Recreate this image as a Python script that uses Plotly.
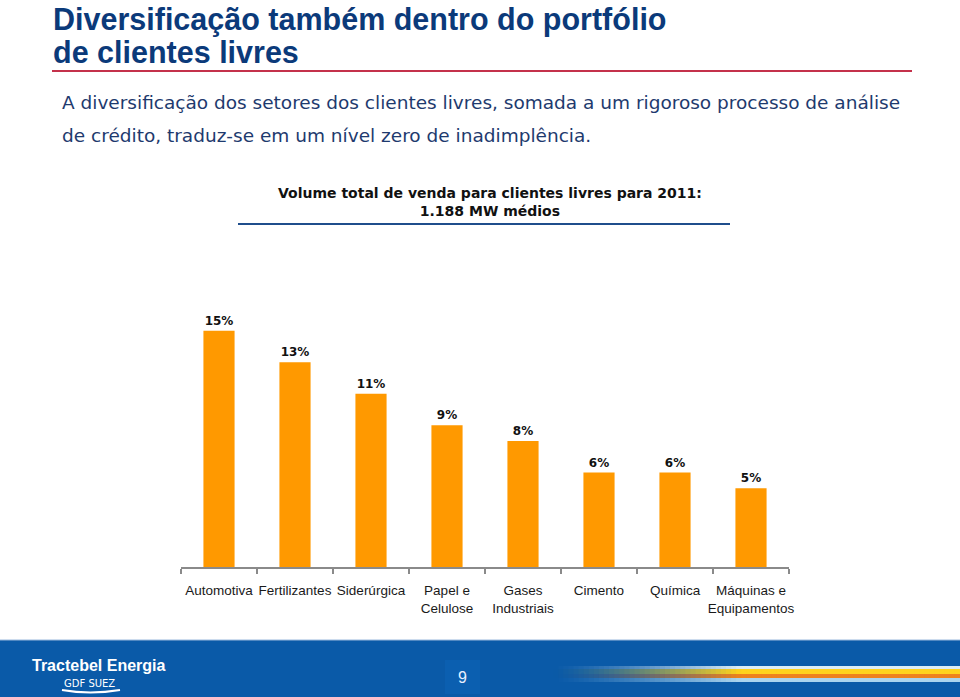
import plotly.graph_objects as go

categories = ["Automotiva", "Fertilizantes", "Siderúrgica", "Papel e<br>Celulose",
              "Gases<br>Industriais", "Cimento", "Química", "Máquinas e<br>Equipamentos"]
shares = [15, 13, 11, 9, 8, 6, 6, 5]

title_lines = ["Diversificação também dentro do portfólio", "de clientes livres"]
subtitle_lines = ["A diversificação dos setores dos clientes livres, somada a um rigoroso processo de análise",
                  "de crédito, traduz-se em um nível zero de inadimplência."]
chart_title = "Volume total de venda para clientes livres para 2011:<br>1.188 MW médios"

W, H = 960, 697
L, R, T, B = 181, 171, 252, 130
PW, PH = W - L - R, H - T - B


def px(x):
    return (x - L) / PW


def py(y):
    return (H - B - y) / PH


fig = go.Figure()
fig.add_trace(go.Bar(
    x=categories, y=shares, width=0.41,
    marker=dict(color="#ff9900", line=dict(width=0)),
    texttemplate="<b>%{y}%</b>", textposition="outside", cliponaxis=False,
    textfont=dict(family="DejaVu Sans, Liberation Sans", size=12, color="#111111"),
    hoverinfo="skip",
))

shapes = []
annotations = []

# header
for i, line in enumerate(title_lines):
    annotations.append(dict(x=px(51), y=py(19 + 33 * i), xref="paper", yref="paper",
                            text="<b>%s</b>" % line, showarrow=False, xanchor="left", yanchor="middle",
                            font=dict(family="Liberation Sans Narrow, Arial Narrow, Liberation Sans", size=30.5, color="#0b3a7a")))
shapes.append(dict(type="line", xref="paper", yref="paper", x0=px(52), x1=px(912), y0=py(71), y1=py(71),
                   line=dict(color="#c4314b", width=2)))
for i, line in enumerate(subtitle_lines):
    annotations.append(dict(x=px(60), y=py(103 + 32 * i), xref="paper", yref="paper",
                            text=line, showarrow=False, xanchor="left", yanchor="middle",
                            font=dict(family="DejaVu Sans, Liberation Sans", size=18.5, color="#1e3a6e")))
annotations.append(dict(x=px(490), y=py(202), xref="paper", yref="paper",
                        text="<b>%s</b>" % chart_title, showarrow=False, xanchor="center", yanchor="middle",
                        font=dict(family="DejaVu Sans, Liberation Sans", size=14, color="#111111")))
shapes.append(dict(type="line", xref="paper", yref="paper", x0=px(238), x1=px(730), y0=py(224), y1=py(224),
                   line=dict(color="#1f4e8c", width=2)))

# footer
shapes.append(dict(type="rect", xref="paper", yref="paper", x0=px(0), x1=px(960), y0=py(640), y1=py(697),
                   fillcolor="#0a5aa8", line=dict(width=0), layer="below"))
shapes.append(dict(type="line", xref="paper", yref="paper", x0=px(0), x1=px(960), y0=py(640), y1=py(640),
                   line=dict(color="#9ab8dc", width=1)))
shapes.append(dict(type="rect", xref="paper", yref="paper", x0=px(445), x1=px(480), y0=py(660), y1=py(694),
                   fillcolor="#0b5fb0", line=dict(width=0)))
annotations.append(dict(x=px(462), y=py(677), xref="paper", yref="paper", text="9", showarrow=False,
                        xanchor="center", yanchor="middle",
                        font=dict(family="Liberation Sans, Arial", size=16, color="#e8f0ff")))
annotations.append(dict(x=px(30), y=py(665), xref="paper", yref="paper", text="<b>Tractebel Energia</b>",
                        showarrow=False, xanchor="left", yanchor="middle",
                        font=dict(family="Liberation Sans Narrow, Arial Narrow, Liberation Sans", size=16, color="white")))
annotations.append(dict(x=px(89), y=py(683), xref="paper", yref="paper", text="GDF SUEZ",
                        showarrow=False, xanchor="center", yanchor="middle",
                        font=dict(family="DejaVu Sans, Liberation Sans", size=10, color="white")))
shapes.append(dict(type="path", xref="paper", yref="paper",
                   path="M %f,%f Q %f,%f %f,%f" % (px(62), py(690), px(90), py(695), px(120), py(690)),
                   line=dict(color="white", width=2)))

# gradient stripe
bands = [(666, 669, (220, 236, 245)), (669, 674, (255, 210, 30)),
         (674, 678, (238, 130, 30)), (678, 682, (170, 212, 238))]
blue = (10, 90, 168)
x_start, x_full, x_end = 553, 740, 960
n = 80
for k in range(n):
    xa = x_start + (x_end - x_start) * k / n
    xb = x_start + (x_end - x_start) * (k + 1) / n
    t = min(1.0, max(0.0, ((xa + xb) / 2 - x_start) / (x_full - x_start))) ** 1.3
    for y0, y1, c in bands:
        col = tuple(int(blue[j] + (c[j] - blue[j]) * t) for j in range(3))
        shapes.append(dict(type="rect", xref="paper", yref="paper", x0=px(xa), x1=px(xb) + 0.002,
                           y0=py(y0), y1=py(y1), fillcolor="rgb(%d,%d,%d)" % col, line=dict(width=0)))

fig.update_layout(
    width=W, height=H, margin=dict(l=L, r=R, t=T, b=B),
    paper_bgcolor="white", plot_bgcolor="white", showlegend=False,
    shapes=shapes, annotations=annotations,
    xaxis=dict(showline=True, linecolor="#8a8a8a", linewidth=2, ticks="outside", tickson="boundaries",
               ticklen=5, tickcolor="#8a8a8a", tickwidth=2, showgrid=False, fixedrange=True, tickangle=0,
               ticklabelstandoff=10,
               tickfont=dict(family="Liberation Sans, Arial", size=13.5, color="#1a1a1a")),
    yaxis=dict(visible=False, range=[0, 20], fixedrange=True),
    bargap=0.59,
)

fig.write_html("out.html", post_script="document.body.style.margin='0';",
               config={"displayModeBar": False})
